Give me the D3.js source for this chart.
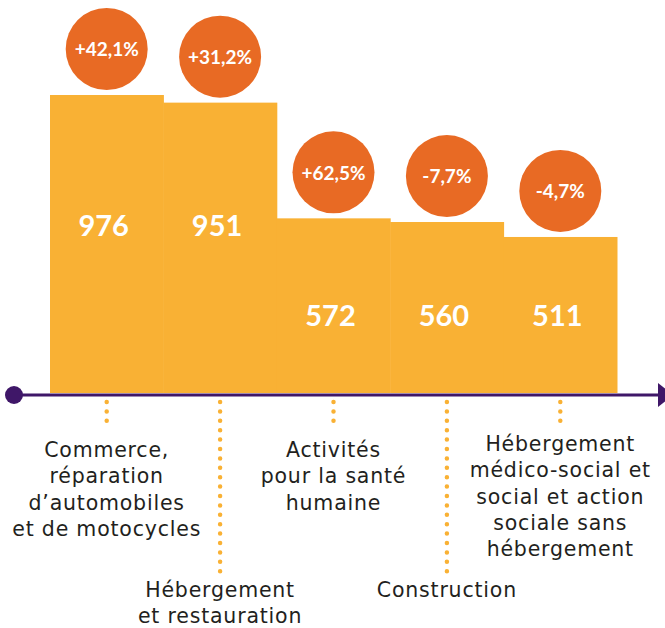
<html>

<head>
    <script src="https://d3js.org/d3.v7.min.js"></script>
    <style>
        body { margin: 0; background: #fff; }
    </style>
</head>

<body>
    <svg id="chart" height="628" width="665"></svg>
    <script>
        // effectifs par secteur et evolution
        const categories = [
            "Commerce, réparation d’automobiles et de motocycles",
            "Hébergement et restauration",
            "Activités pour la santé humaine",
            "Construction",
            "Hébergement médico-social et social et action sociale sans hébergement"
        ];
        const labelLines = [
            ["Commerce,", "réparation", "d’automobiles", "et de motocycles"],
            ["Hébergement", "et restauration"],
            ["Activités", "pour la santé", "humaine"],
            ["Construction"],
            ["Hébergement", "médico-social et", "social et action", "sociale sans", "hébergement"]
        ];
        const values = [976, 951, 572, 560, 511];
        const changes = ["+42,1%", "+31,2%", "+62,5%", "-7,7%", "-4,7%"];

        const svg = d3.select("#chart");
        const barColor = "#F9B134";
        const bubbleColor = "#E86A24";
        const axisColor = "#3F1768";
        const baseY = 393;

        const x = d3.scaleBand().domain(categories).range([50, 617]).padding(0);
        const y = d3.scaleLinear().domain([0, 976]).range([baseY, 95]);

        // bars
        svg.selectAll("rect.bar")
            .data(values)
            .join("rect")
            .attr("class", "bar")
            .attr("x", (d, i) => x(categories[i]))
            .attr("y", d => y(d))
            .attr("width", x.bandwidth() + 0.5)
            .attr("height", d => baseY - y(d))
            .attr("fill", barColor);

        // value labels (two rows)
        svg.selectAll("text.value")
            .data(values)
            .join("text")
            .attr("class", "value")
            .attr("x", (d, i) => x(categories[i]) + x.bandwidth() / 2 - 3)
            .attr("y", d => d > 750 ? 236 : 326)
            .attr("text-anchor", "middle")
            .attr("fill", "#fff")
            .style("font-family", "Lato")
            .style("font-weight", "bold")
            .style("font-size", "29px")
            .text(d => d);

        // bubbles
        const bubbles = svg.selectAll("g.bubble")
            .data(values)
            .join("g")
            .attr("class", "bubble")
            .attr("transform", (d, i) => "translate(" + (x(categories[i]) + x.bandwidth() / 2) + "," + (y(d) - 46) + ")");

        bubbles.append("circle")
            .attr("r", 41)
            .attr("fill", bubbleColor);

        bubbles.append("text")
            .attr("text-anchor", "middle")
            .attr("dy", "0.38em")
            .attr("fill", "#fff")
            .style("font-family", "Lato")
            .style("font-weight", "bold")
            .style("font-size", "19px")
            .text((d, i) => changes[i]);

        // axis line with dot and arrow
        svg.append("line")
            .attr("x1", 14).attr("x2", 660)
            .attr("y1", 395).attr("y2", 395)
            .attr("stroke", axisColor)
            .attr("stroke-width", 3);
        svg.append("circle")
            .attr("cx", 14).attr("cy", 395).attr("r", 9)
            .attr("fill", axisColor);
        svg.append("path")
            .attr("d", "M658,383 L673,395 L658,407 Z")
            .attr("fill", axisColor);

        // dotted leaders and category labels
        categories.forEach((c, i) => {
            const cx = x(c) + x.bandwidth() / 2;
            const long = i % 2 === 1;
            svg.append("line")
                .attr("x1", cx).attr("x2", cx)
                .attr("y1", 402).attr("y2", long ? 573 : 429)
                .attr("stroke", barColor)
                .attr("stroke-width", 4.5)
                .attr("stroke-linecap", "round")
                .attr("stroke-dasharray", "0 9.4");

            const t = svg.append("text")
                .attr("text-anchor", "middle")
                .attr("fill", "#231F20")
                .style("font-family", "DejaVu Sans")
                .style("font-size", "20.5px")
                .style("letter-spacing", "0.8px");
            const startY = long ? 597 : (labelLines[i].length > 4 ? 451 : 457);
            labelLines[i].forEach((line, j) => {
                t.append("tspan")
                    .attr("x", cx)
                    .attr("y", startY + j * 26.3)
                    .text(line);
            });
        });
    </script>

</body>

</html>
